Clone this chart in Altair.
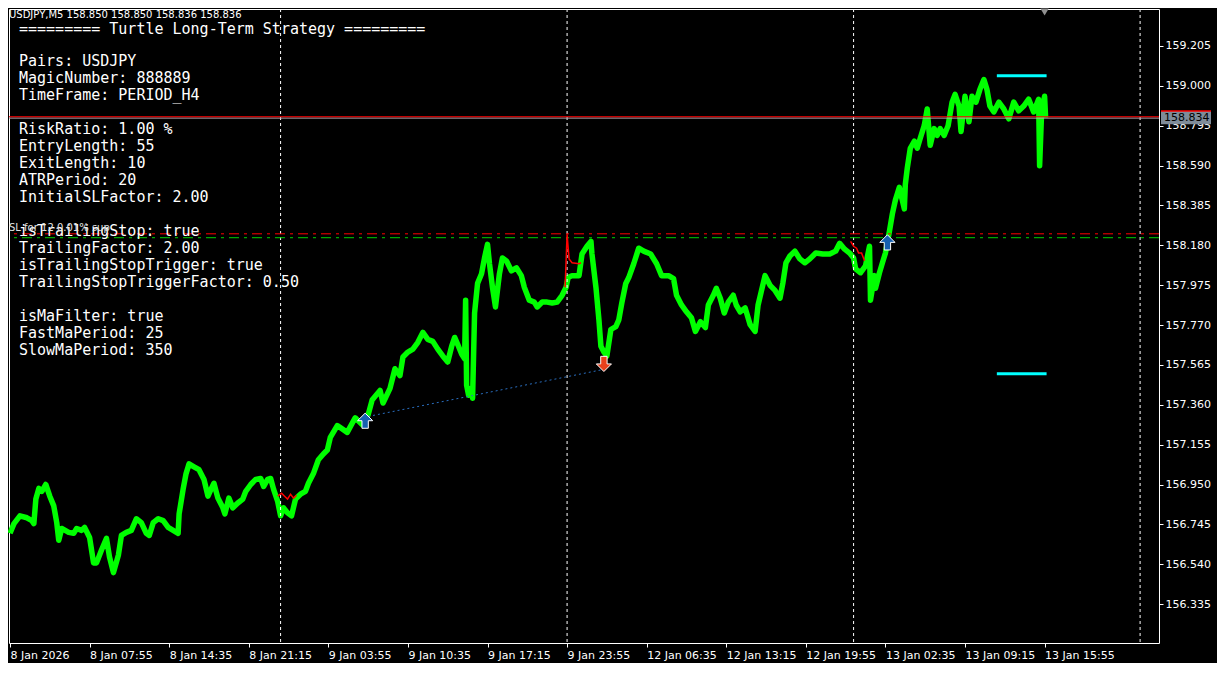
import altair as alt
import pandas as pd

# ---------------- data ----------------
bar_index = [0, 4, 10, 17, 22, 24, 26, 29, 32, 36, 40, 44, 47, 49, 52, 59, 64, 67, 72, 75,
             80, 84, 87, 92, 97, 100, 104, 109, 112, 117, 122, 127, 132, 137, 140, 144, 149, 154, 159, 164,
             169, 170, 174, 177, 180, 185, 190, 195, 199, 202, 205, 209, 214, 216, 220, 224, 229, 234, 237, 242,
             247, 252, 255, 259, 262, 265, 269, 272, 275, 279, 283, 287, 292, 297, 300, 305, 310, 315, 319, 322,
             329, 339, 347, 354, 360, 364, 372, 375, 382, 387, 392, 395, 400, 405, 410, 415, 420, 425, 430, 435,
             440, 444, 447, 450, 454, 457, 458, 459, 461, 464, 465, 467, 470, 474, 477, 480, 482, 485, 488, 492,
             495, 499, 504, 509, 514, 517, 522, 527, 530, 535, 540, 545, 550, 555, 559, 561, 565, 572, 575, 580,
             584, 585, 589, 592, 594, 597, 600, 604, 609, 612, 615, 619, 622, 627, 632, 637, 644, 650, 655, 662,
             667, 670, 675, 680, 685, 689, 694, 699, 702, 707, 710, 714, 718, 722, 727, 730, 734, 739, 744, 749,
             752, 755, 759, 764, 769, 774, 777, 780, 784, 789, 794, 799, 804, 810, 817, 824, 830, 834, 839, 844,
             848, 850, 855, 860, 864, 865, 869, 870, 874, 877, 880, 884, 887, 890, 894, 899, 900, 902, 905, 909,
             912, 915, 919, 922, 925, 929, 932, 935, 939, 943, 947, 950, 954, 956, 960, 964, 967, 971, 975, 979,
             982, 985, 989, 994, 999, 1004, 1009, 1014, 1019, 1024, 1029, 1034, 1035, 1037, 1040, 1041]
close_price = [156.699, 156.749, 156.789, 156.779, 156.764, 156.749, 156.875, 156.930, 156.915, 156.950,
               156.890, 156.840, 156.754, 156.663, 156.724, 156.704, 156.699, 156.724, 156.714, 156.729,
               156.678, 156.547, 156.547, 156.613, 156.673, 156.578, 156.497, 156.588, 156.688, 156.704,
               156.714, 156.774, 156.754, 156.699, 156.688, 156.754, 156.774, 156.764, 156.729, 156.714,
               156.699, 156.799, 156.925, 157.006, 157.056, 157.041, 157.026, 156.976, 156.890, 156.925,
               156.956, 156.880, 156.830, 156.799, 156.880, 156.830, 156.855, 156.875, 156.915, 156.950,
               156.976, 156.981, 156.940, 156.976, 156.981, 156.925, 156.865, 156.789, 156.830, 156.804,
               156.789, 156.875, 156.900, 156.915, 156.956, 157.006, 157.077, 157.107, 157.127, 157.192,
               157.253, 157.218, 157.293, 157.258, 157.308, 157.384, 157.434, 157.369, 157.444, 157.545,
               157.510, 157.606, 157.631, 157.646, 157.681, 157.732, 157.696, 157.686, 157.646, 157.611,
               157.580, 157.661, 157.706, 157.671, 157.621, 157.596, 157.898, 157.460, 157.409, 157.444,
               157.394, 157.832, 157.984, 158.034, 158.115, 158.185, 158.085, 157.964, 157.863, 158.034,
               158.115, 158.100, 158.049, 158.064, 158.024, 157.964, 157.898, 157.888, 157.863, 157.888,
               157.888, 157.883, 157.888, 157.923, 157.964, 158.014, 158.024, 158.024, 158.135, 158.175,
               158.200, 158.135, 157.964, 157.797, 157.661, 157.631, 157.611, 157.747, 157.762, 157.797,
               157.883, 157.984, 158.014, 158.085, 158.165, 158.150, 158.135, 158.085, 158.024, 158.024,
               158.009, 157.923, 157.873, 157.838, 157.807, 157.737, 157.787, 157.757, 157.873, 157.923,
               157.959, 157.908, 157.832, 157.888, 157.923, 157.873, 157.838, 157.858, 157.772, 157.737,
               157.873, 157.938, 158.024, 157.974, 157.948, 157.908, 157.989, 158.090, 158.125, 158.150,
               158.110, 158.090, 158.110, 158.140, 158.135, 158.135, 158.150, 158.190, 158.160, 158.140,
               158.115, 158.059, 158.039, 158.074, 158.175, 157.898, 158.024, 157.959, 158.039, 158.090,
               158.140, 158.251, 158.342, 158.412, 158.478, 158.367, 158.493, 158.578, 158.679, 158.715,
               158.679, 158.730, 158.795, 158.881, 158.694, 158.780, 158.745, 158.780, 158.745, 158.795,
               158.916, 158.956, 158.896, 158.765, 158.946, 158.815, 158.946, 158.916, 158.982, 159.032,
               158.982, 158.896, 158.866, 158.916, 158.881, 158.830, 158.916, 158.871, 158.896, 158.931,
               158.866, 158.931, 158.589, 158.866, 158.946, 158.836]

red_index = [269, 273, 276, 279, 282, 285, 288, 558, 560, 562, 565, 572, 574, 845, 848, 851, 853, 856, 859]
red_price = [156.890, 156.905, 156.890, 156.875, 156.900, 156.880, 156.895,
             157.964, 158.236, 158.110, 158.090, 158.085, 158.090,
             158.200, 158.175, 158.165, 158.140, 158.140, 158.100]
red_segment = [1, 1, 1, 1, 1, 1, 1, 2, 2, 2, 2, 2, 2, 3, 3, 3, 3, 3, 3]

tick_index = [0, 80, 160, 240, 320, 400, 480, 560, 640, 720, 800, 880, 960, 1040]
tick_labels = ["8 Jan 2026", "8 Jan 07:55", "8 Jan 14:35", "8 Jan 21:15", "9 Jan 03:55",
               "9 Jan 10:35", "9 Jan 17:15", "9 Jan 23:55", "12 Jan 06:35", "12 Jan 13:15",
               "12 Jan 19:55", "13 Jan 02:35", "13 Jan 09:15", "13 Jan 15:55"]
price_ticks = [156.335, 156.540, 156.745, 156.950, 157.155, 157.360, 157.565, 157.770,
               157.975, 158.180, 158.385, 158.590, 158.795, 159.000, 159.205]

day_separators = [272, 560, 848, 1136]
bid_price = 158.834
ask_price = 158.841
stop_levels = [158.239]
entry_levels = [158.219]
target_start = [992, 992]
target_end = [1042, 1042]
target_price = [159.052, 157.520]
buy_index = [357, 882]
buy_price = [157.278, 158.195]
sell_index = [597]
sell_price = [157.570]
trade_index = [360, 595]
trade_price = [157.300, 157.540]

header = "USDJPY,M5  158.850 158.850 158.836 158.836"
info_title = ["========= Turtle Long-Term Strategy ========="]
info_general = ["Pairs: USDJPY", "MagicNumber: 888889", "TimeFrame: PERIOD_H4"]
info_risk = ["RiskRatio: 1.00 %", "EntryLength: 55", "ExitLength: 10", "ATRPeriod: 20",
             "InitialSLFactor: 2.00"]
info_trailing = ["isTrailingStop: true", "TrailingFactor: 2.00", "isTrailingStopTrigger: true",
                 "TrailingStopTriggerFactor: 0.50"]
info_ma = ["isMaFilter: true", "FastMaPeriod: 25", "SlowMaPeriod: 350"]
sl_note = "SL for 12 0.01% sup"

# ---------------- chart ----------------
W, H = 1150, 634
xs = alt.Scale(domain=[-1, 1155], nice=False, zero=False)
ys = alt.Scale(domain=[156.135, 159.395], nice=False, zero=False)

label_expr = "[" + ",".join("'" + t + "'" for t in tick_labels) + "][round(datum.value/80)]"


def X(field):
    return alt.X(field, scale=xs, title=None)


def Y(field):
    return alt.Y(field, scale=ys, title=None)


price_df = pd.DataFrame({"i": bar_index, "p": close_price})
main = alt.Chart(price_df).mark_line(color="#00ff00", strokeWidth=5.5, strokeJoin="round").encode(
    x=alt.X("i:Q", scale=xs, title=None, axis=alt.Axis(
        values=tick_index, labelExpr=label_expr, orient="bottom", grid=False,
        domain=False, tickColor="#ffffff", tickSize=4, labelColor="#ffffff", labelAlign="left",
        labelFont="DejaVu Sans", labelFontSize=11, labelPadding=2, labelOverlap=False,
        labelFlush=False)),
    y=alt.Y("p:Q", scale=ys, title=None, axis=alt.Axis(
        values=price_ticks, format=".3f", orient="right", grid=False, domain=False,
        tickColor="#ffffff", tickSize=4, labelColor="#ffffff", labelFont="DejaVu Sans",
        labelFontSize=11, labelPadding=2, labelOverlap=False, labelFlush=False)),
)

red_df = pd.DataFrame({"i": red_index, "p": red_price, "s": red_segment})
red = alt.Chart(red_df).mark_line(color="#ff0000", strokeWidth=1.5).encode(
    x=X("i:Q"), y=Y("p:Q"), detail="s:N")

sep = alt.Chart(pd.DataFrame({"i": day_separators})).mark_rule(
    color="#ffffff", strokeDash=[3, 3], strokeWidth=1).encode(x=X("i:Q"))

bid = alt.Chart(pd.DataFrame({"p": [bid_price]})).mark_rule(color="#b4a8b4", strokeWidth=1).encode(
    y=Y("p:Q"))
ask = alt.Chart(pd.DataFrame({"p": [ask_price]})).mark_rule(color="#ff0000", strokeWidth=1).encode(
    y=Y("p:Q"))

stop = alt.Chart(pd.DataFrame({"p": stop_levels})).mark_rule(
    color="#ff0000", strokeDash=[10, 5, 3, 5], strokeWidth=1).encode(y=Y("p:Q"))
entry = alt.Chart(pd.DataFrame({"p": entry_levels})).mark_rule(
    color="#00d000", strokeDash=[10, 5, 3, 5], strokeWidth=1).encode(y=Y("p:Q"))

targets = alt.Chart(pd.DataFrame({"a": target_start, "b": target_end, "p": target_price})).mark_rule(
    color="#00ffff", strokeWidth=3).encode(x=X("a:Q"), x2="b:Q", y=Y("p:Q"))

trade = alt.Chart(pd.DataFrame({"i": trade_index, "p": trade_price})).mark_line(
    color="#2a6fc0", strokeDash=[2, 3], strokeWidth=1).encode(x=X("i:Q"), y=Y("p:Q"))

up_path = "M0,-1L1,0L0.42,0L0.42,1L-0.42,1L-0.42,0L-1,0Z"
down_path = "M0,1L1,0L0.42,0L0.42,-1L-0.42,-1L-0.42,0L-1,0Z"
buys = alt.Chart(pd.DataFrame({"i": buy_index, "p": buy_price})).mark_point(
    shape=up_path, filled=True, fill="#1560b0", stroke="#ffffff", strokeWidth=1, size=230, opacity=1).encode(
    x=X("i:Q"), y=Y("p:Q"))
sells = alt.Chart(pd.DataFrame({"i": sell_index, "p": sell_price})).mark_point(
    shape=down_path, filled=True, fill="#e8401c", stroke="#ffffff", strokeWidth=1, size=230, opacity=1).encode(
    x=X("i:Q"), y=Y("p:Q"))

shift_mark = alt.Chart(pd.DataFrame({"i": [1040]})).mark_point(
    shape="triangle-down", filled=True, color="#909090", size=70, opacity=1).encode(
    x=X("i:Q"), y=alt.value(3))

box_df = pd.DataFrame({"p": [bid_price], "t": ["158.834"]})
box = alt.Chart(box_df).transform_calculate(
    top="datum.p + 0.037", bot="datum.p - 0.032").mark_rect(color="#7f8c99").encode(
    x=alt.value(W + 2), x2=alt.value(W + 52), y=Y("top:Q"), y2="bot:Q")
box_line = alt.Chart(box_df).transform_calculate(top="datum.p + 0.037").mark_rule(
    color="#ff0000", strokeWidth=1.5).encode(
    x=alt.value(W + 2), x2=alt.value(W + 52), y=Y("top:Q"))
box_text = alt.Chart(box_df).mark_text(
    color="#000000", font="DejaVu Sans", fontSize=11, align="left", baseline="middle").encode(
    x=alt.value(W + 5), y=Y("p:Q"), text="t:N")

head = alt.Chart(pd.DataFrame({"t": [header]})).mark_text(
    color="#ffffff", font="DejaVu Sans", fontSize=10, align="left", baseline="middle").encode(
    x=alt.value(0), y=alt.value(6), text="t:N")


def info_block(lines, top):
    return alt.Chart(pd.DataFrame({"t": ["\n".join(lines)]})).mark_text(
        color="#ffffff", font="DejaVu Sans Mono", fontSize=15, align="left", baseline="top",
        lineBreak="\n", lineHeight=17).encode(x=alt.value(10), y=alt.value(top), text="t:N")


blocks = [info_block(info_title, 13), info_block(info_general, 45),
          info_block(info_risk, 113), info_block(info_trailing, 215),
          info_block(info_ma, 300)]

note = alt.Chart(pd.DataFrame({"t": [sl_note]})).mark_text(
    color="#e0e0e0", font="DejaVu Sans", fontSize=10, align="left", baseline="middle").encode(
    x=alt.value(0), y=alt.value(219), text="t:N")

chart = alt.layer(
    main, sep, bid, ask, stop, entry, targets, trade, red, buys, sells, shift_mark,
    box, box_line, box_text, head, *blocks, note
).properties(
    width=W, height=H,
    autosize=alt.AutoSizeParams(type="none"),
    padding={"left": 1, "top": 1, "right": 58, "bottom": 20},
    background="#000000",
).configure_view(stroke="#ffffff", strokeWidth=1, fill="#000000")

chart.save("out.html", embed_options={"renderer": "svg", "actions": False})
